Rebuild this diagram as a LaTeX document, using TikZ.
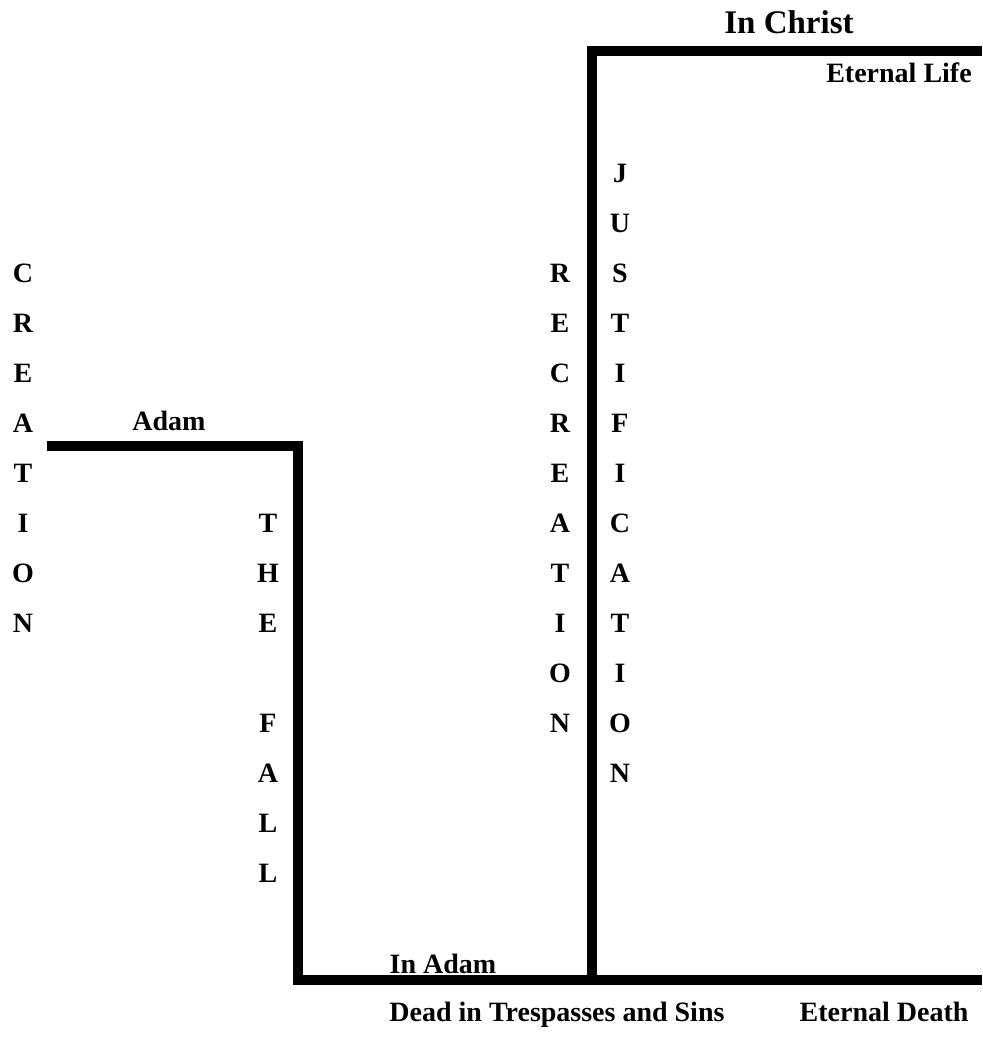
\documentclass[tikz,border=0pt]{standalone}
\usepackage{fontspec}
\setmainfont{Liberation Serif}
\begin{document}
\begin{tikzpicture}[x=1pt,y=-1pt,
  lbl/.style={font=\bfseries\fontsize{28}{28}\selectfont, inner sep=0pt, anchor=base},
  big/.style={font=\bfseries\fontsize{33}{33}\selectfont, inner sep=0pt, anchor=base},
  bar/.style={line width=10pt, line join=miter, line cap=butt}]
\useasboundingbox (0,0) rectangle (982,1038);
% corner coordinates
\coordinate (adamL) at (47,446);
\coordinate (fallTop) at (297.5,446);
\coordinate (fallBot) at (297.5,979.5);
\coordinate (deathR) at (982,979.5);
\coordinate (justBot) at (592,979.5);
\coordinate (justTop) at (592,51);
\coordinate (lifeR) at (982,51);
\draw[bar] (adamL) -- (fallTop) -- (fallBot) -- (deathR);
\draw[bar] (justBot) -- (justTop) -- (lifeR);
% vertical words
\foreach \ch [count=\i from 0] in {C,R,E,A,T,I,O,N}
  \node[lbl] (cr\i) at (23,282+50*\i) {\ch};
\foreach \ch [count=\i from 0] in {T,H,E}
  \node[lbl] (th\i) at (268,532+50*\i) {\ch};
\foreach \ch [count=\i from 0] in {F,A,L,L}
  \node[lbl] (fa\i) at (268,732+50*\i) {\ch};
\foreach \ch [count=\i from 0] in {R,E,C,R,E,A,T,I,O,N}
  \node[lbl] (re\i) at (560,282+50*\i) {\ch};
\foreach \ch [count=\i from 0] in {J,U,S,T,I,F,I,C,A,T,I,O,N}
  \node[lbl] (ju\i) at (620,182+50*\i) {\ch};
% labels
\node[big] (christ) at (789,34) {In Christ};
\node[lbl] (life) at (899,83) {Eternal Life};
\node[lbl] (adam) at (169,430) {Adam};
\node[lbl] (inadam) at (443,973) {In Adam};
\node[lbl] (dead) at (557,1021) {Dead in Trespasses and Sins};
\node[lbl] (death) at (884,1021) {Eternal Death};
\end{tikzpicture}
\end{document}
